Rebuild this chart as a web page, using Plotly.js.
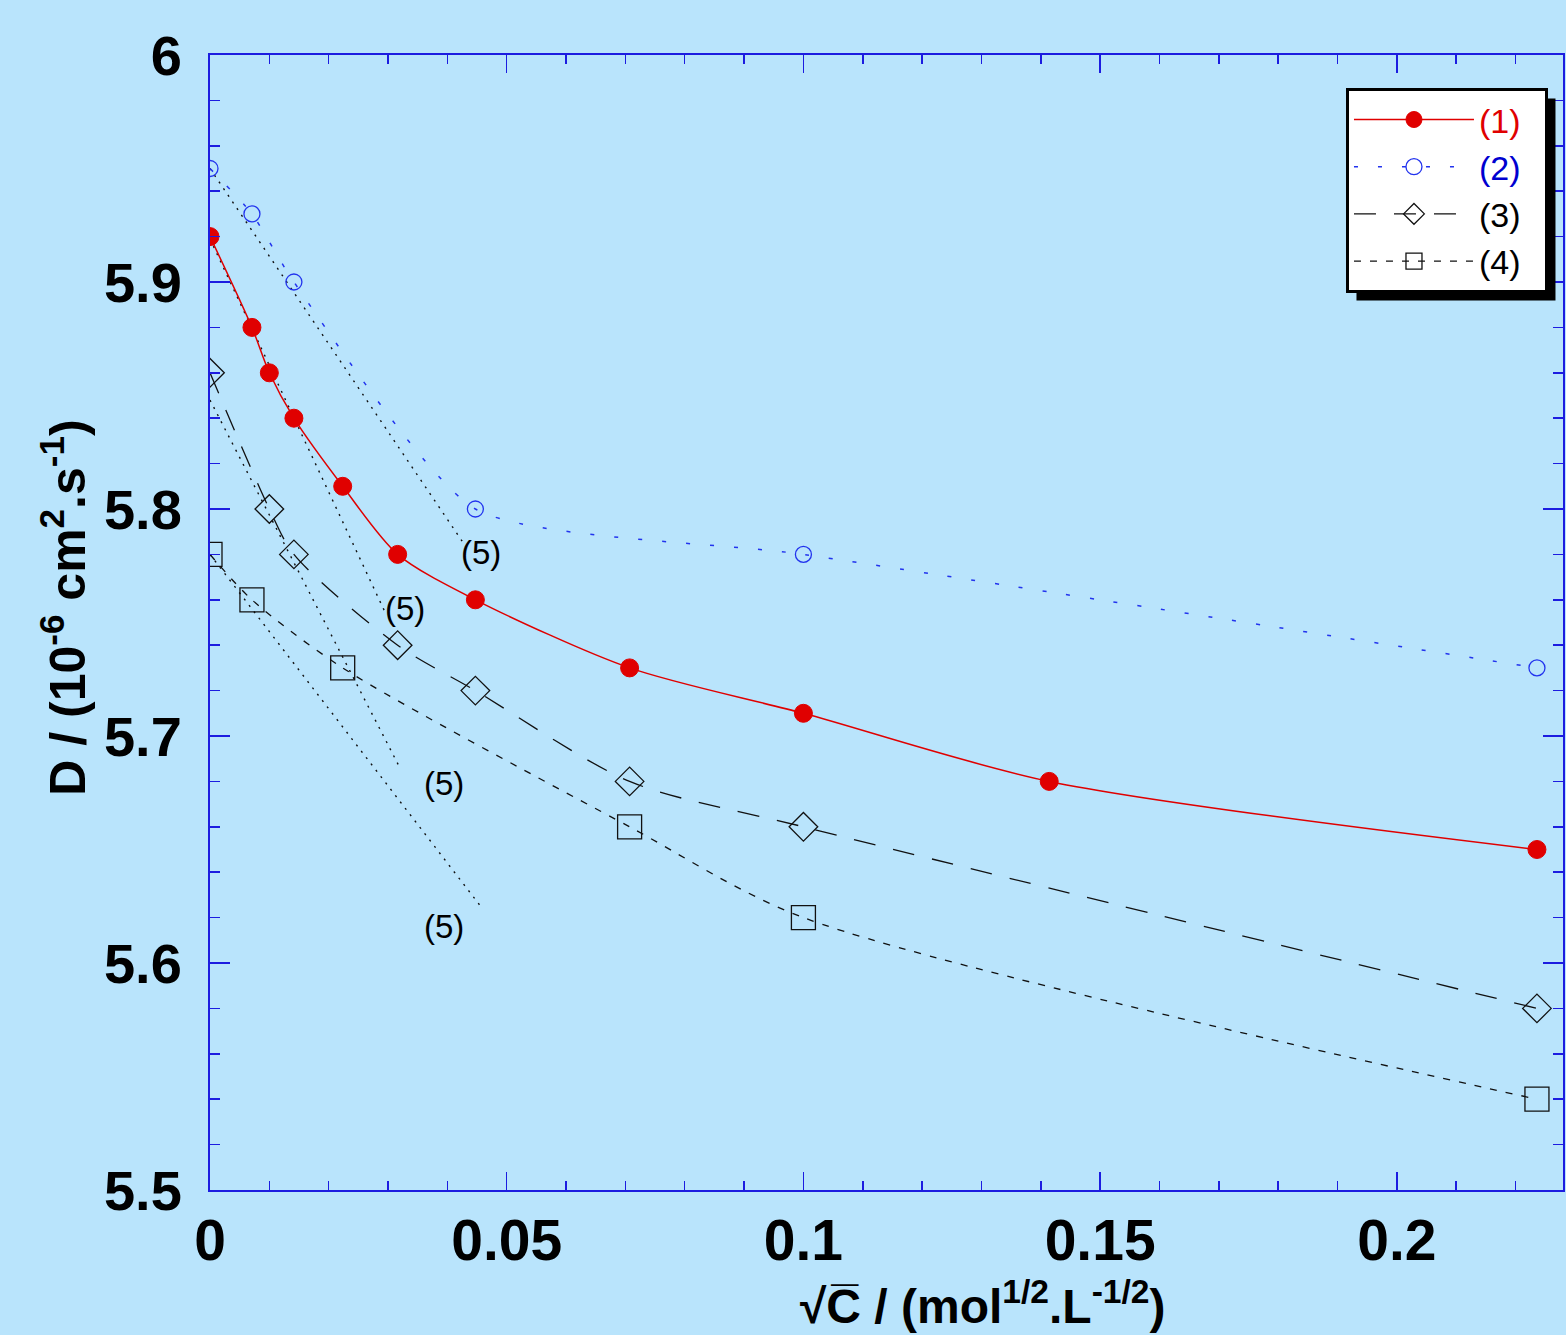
<!DOCTYPE html>
<html>
<head>
<meta charset="utf-8">
<script src="https://cdn.plot.ly/plotly-3.0.1.min.js"></script>
<style>html,body{margin:0;padding:0;background:#b9e4fc;}#chart{width:1566px;height:1335px;}</style>
</head>
<body>
<div id="chart"></div>
<script>
// ---- data ----
var x1 = [0, 0.00707, 0.01, 0.01414, 0.02236, 0.03162, 0.04472, 0.07071, 0.1, 0.14142, 0.22361];
var y1 = [5.92, 5.88, 5.86, 5.84, 5.81, 5.78, 5.76, 5.73, 5.71, 5.68, 5.65];
var x2 = [0, 0.00707, 0.01414, 0.04472, 0.1, 0.22361];
var y2 = [5.95, 5.93, 5.90, 5.80, 5.78, 5.73];
var x3 = [0, 0.01, 0.01414, 0.03162, 0.04472, 0.07071, 0.1, 0.22361];
var y3 = [5.86, 5.80, 5.78, 5.74, 5.72, 5.68, 5.66, 5.58];
var x4 = [0, 0.00707, 0.02236, 0.07071, 0.1, 0.22361];
var y4 = [5.78, 5.76, 5.73, 5.66, 5.62, 5.54];
// limiting-law lines (5)
var x5a = [0, 0.0427], y5a = [5.95, 5.785];
var x5b = [0, 0.0296], y5b = [5.919, 5.754];
var x5c = [0, 0.0318], y5c = [5.848, 5.687];
var x5d = [0, 0.0456], y5d = [5.78, 5.625];
var label5x = [0.0456, 0.0329, 0.0394, 0.0394];
var label5y = [5.781, 5.756, 5.679, 5.616];
var seriesNames = ['(1)', '(2)', '(3)', '(4)'];

var FONT = 'Liberation Sans, Arial, sans-serif';
var AXC = '#1c1ce0';
var BG = '#b9e4fc';
var PAD = '&nbsp;&nbsp;';

var traces = [
  {x: x5a, y: y5a, mode: 'lines', line: {color: '#111', width: 1.4, dash: '2px,6px'}, showlegend: false, hoverinfo: 'skip'},
  {x: x5b, y: y5b, mode: 'lines', line: {color: '#111', width: 1.4, dash: '2px,6px'}, showlegend: false, hoverinfo: 'skip'},
  {x: x5c, y: y5c, mode: 'lines', line: {color: '#111', width: 1.4, dash: '2px,6px'}, showlegend: false, hoverinfo: 'skip'},
  {x: x5d, y: y5d, mode: 'lines', line: {color: '#111', width: 1.4, dash: '2px,6px'}, showlegend: false, hoverinfo: 'skip'},
  {x: x1, y: y1, mode: 'lines+markers', name: '<span style="color:#e00000">' + seriesNames[0] + '</span>' + PAD,
   line: {color: '#e00000', width: 1.5, shape: 'spline', smoothing: 0.8},
   marker: {symbol: 'circle', size: 18, color: '#e00000', line: {color: '#e00000', width: 1}}},
  {x: x2, y: y2, mode: 'lines+markers', name: '<span style="color:#0000d0">' + seriesNames[1] + '</span>' + PAD,
   line: {color: '#2233ee', width: 1.5, shape: 'spline', smoothing: 0.6, dash: '4px,20px'},
   marker: {symbol: 'circle-open', size: 16, color: '#2233ee', line: {color: '#2233ee', width: 1.3}}},
  {x: x3, y: y3, mode: 'lines+markers', name: seriesNames[2] + PAD,
   line: {color: '#111', width: 1.3, shape: 'spline', smoothing: 0.8, dash: '22px,18px'},
   marker: {symbol: 'diamond-open', size: 22, color: '#111', line: {color: '#111', width: 1.3}}},
  {x: x4, y: y4, mode: 'lines+markers', name: seriesNames[3] + PAD,
   line: {color: '#111', width: 1.3, shape: 'spline', smoothing: 0.8, dash: '7px,9px'},
   marker: {symbol: 'square-open', size: 24, color: '#111', line: {color: '#111', width: 1.3}}}
];

var annotations = [];
for (var i = 0; i < label5x.length; i++) {
  annotations.push({x: label5x[i], y: label5y[i], xref: 'x', yref: 'y', text: '(5)', showarrow: false,
    font: {family: FONT, size: 33, color: '#000'}, xanchor: 'center', yanchor: 'middle'});
}
annotations.push({xref: 'paper', yref: 'paper', x: -146 / 1353, y: 0.513, textangle: -90, showarrow: false,
  xanchor: 'center', yanchor: 'middle',
  text: '<b>D / (10<sup>-6</sup> cm<sup>2</sup>.s<sup>-1</sup>)</b>', font: {family: FONT, size: 50, color: '#000'}});
annotations.push({xref: 'paper', yref: 'paper', x: 0.5715, y: -0.0995, showarrow: false,
  xanchor: 'center', yanchor: 'middle',
  text: '<b>√C̅ / (mol<sup>1/2</sup>.L<sup>-1/2</sup>)</b>', font: {family: FONT, size: 48, color: '#000'}});

var layout = {
  width: 1566, height: 1335,
  paper_bgcolor: BG, plot_bgcolor: BG,
  margin: {l: 210, r: 3, t: 55, b: 145},
  showlegend: true,
  font: {family: FONT, color: '#000'},
  xaxis: {
    range: [0, 0.228], dtick: 0.05, tick0: 0, showgrid: false, zeroline: false,
    showline: true, linecolor: AXC, linewidth: 2, mirror: 'ticks',
    ticks: 'inside', ticklen: 18, tickwidth: 1.5, tickcolor: AXC,
    minor: {dtick: 0.01, ticks: 'inside', ticklen: 9, tickwidth: 1.5, tickcolor: AXC},
    tickfont: {family: FONT, size: 57, color: '#000', weight: 'bold'},
    ticklabelstandoff: 0
  },
  yaxis: {
    range: [5.5, 6.0], dtick: 0.1, tick0: 5.5, showgrid: false, zeroline: false,
    showline: true, linecolor: AXC, linewidth: 2, mirror: 'ticks',
    ticks: 'inside', ticklen: 20, tickwidth: 1.5, tickcolor: AXC,
    minor: {dtick: 0.02, ticks: 'inside', ticklen: 10, tickwidth: 1.5, tickcolor: AXC},
    tickfont: {family: FONT, size: 56, color: '#000', weight: 'bold'},
    ticklabelstandoff: 15
  },
  legend: {
    x: 0.8396, y: 0.971, xanchor: 'left', yanchor: 'top',
    bgcolor: '#ffffff', bordercolor: '#000', borderwidth: 3,
    font: {family: FONT, size: 34, color: '#000'},
    itemwidth: 120, tracegroupgap: 0
  },
  annotations: annotations
};

Plotly.newPlot('chart', traces, layout, {displayModeBar: false, staticPlot: true}).then(function (gd) {
  var bg = gd.querySelector('.legend .bg');
  if (!bg) return;
  var r = bg.getBoundingClientRect();
  var g = gd.getBoundingClientRect();
  var s = gd._fullLayout._size;
  var off = 9;
  function px2x(p) { return (p - g.left - s.l) / s.w; }
  function px2y(p) { return 1 - (p - g.top - s.t) / s.h; }
  Plotly.relayout(gd, {shapes: [{
    type: 'rect', xref: 'paper', yref: 'paper', layer: 'above',
    x0: px2x(r.left + off), x1: px2x(r.right + off),
    y0: px2y(r.bottom + off), y1: px2y(r.top + off),
    fillcolor: '#000', line: {width: 0}
  }]});
});
</script>
</body>
</html>
